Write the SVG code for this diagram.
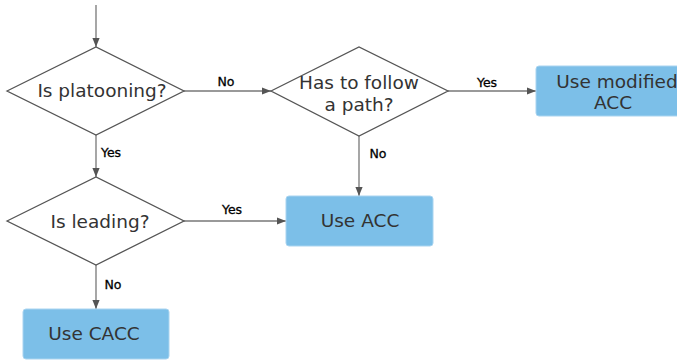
<svg xmlns="http://www.w3.org/2000/svg" width="677" height="360" viewBox="0 0 677 360">
<style>
.dia{fill:#fff;stroke:#555;stroke-width:1.3}
.box{fill:#7cbfe8;stroke:#a9d4f0;stroke-width:1}
.t{font-family:"DejaVu Sans",sans-serif;font-size:18.5px;fill:#333;text-anchor:middle}
.l{font-family:"DejaVu Sans",sans-serif;font-size:12.5px;fill:#000;text-anchor:middle;stroke:#000;stroke-width:0.3}
.c{stroke:#777;stroke-width:1.3;fill:none;marker-end:url(#a)}
</style>
<defs>
<marker id="a" viewBox="0 0 10 10" refX="10" refY="5" markerWidth="9" markerHeight="9" markerUnits="userSpaceOnUse" orient="auto">
<path d="M0,1 L10,5 L0,9 z" fill="#555"/>
</marker>
</defs>
<rect width="677" height="360" fill="#fff"/>
<g id="connectors">
<path class="c" d="M96,5 V47"/>
<path class="c" d="M184,91 H271"/>
<path class="c" d="M448,91 H536"/>
<path class="c" d="M359,136 V196"/>
<path class="c" d="M96,135 V177"/>
<path class="c" d="M184,221 H286"/>
<path class="c" d="M96,265 V309"/>
<text class="l" x="226" y="86">No</text>
<text class="l" x="487" y="87">Yes</text>
<text class="l" x="378" y="158">No</text>
<text class="l" x="111" y="157">Yes</text>
<text class="l" x="232" y="214">Yes</text>
<text class="l" x="113" y="289">No</text>
</g>
<g id="n1">
<polygon class="dia" points="7,91 96,47 184,91 96,135"/>
<text class="t" x="102" y="97">Is platooning?</text>
</g>
<g id="n2">
<polygon class="dia" points="271,91 359,47 448,91 359,136"/>
<text class="t" x="359" y="89">Has to follow</text>
<text class="t" x="359" y="111">a path?</text>
</g>
<g id="n3">
<rect class="box" x="536" y="66" width="156" height="50" rx="3"/>
<text class="t" x="617" y="88">Use modified</text>
<text class="t" x="613" y="109">ACC</text>
</g>
<g id="n4">
<rect class="box" x="286" y="196" width="147" height="50" rx="3"/>
<text class="t" x="360" y="227">Use ACC</text>
</g>
<g id="n5">
<polygon class="dia" points="7,221 96,177 184,221 96,265"/>
<text class="t" x="100" y="228">Is leading?</text>
</g>
<g id="n6">
<rect class="box" x="23" y="309" width="146" height="50" rx="3"/>
<text class="t" x="94" y="340">Use CACC</text>
</g>
</svg>
